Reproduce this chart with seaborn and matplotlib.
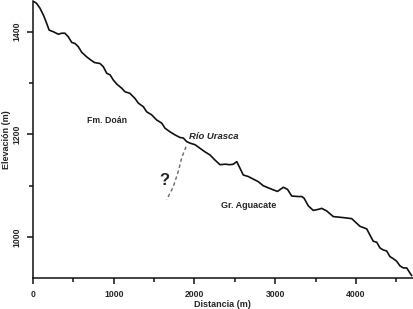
import matplotlib
matplotlib.use('Agg')
import matplotlib.pyplot as plt
import seaborn as sns
import pandas as pd
from matplotlib.ticker import MultipleLocator

# perfil topografico (distancia en m, elevacion en m)
distancia = [0, 45, 85, 130, 170, 200, 250, 315, 355, 395, 437, 480, 520, 560, 603,
             665, 706, 760, 830, 870, 913, 954, 994, 1037, 1098, 1139, 1200, 1263,
             1304, 1366, 1408, 1470, 1532, 1594, 1635, 1697, 1759, 1820, 1861, 1903,
             1944, 2006, 2068, 2130, 2192, 2254, 2316, 2378, 2440, 2481, 2523, 2564,
             2604, 2666, 2728, 2790, 2852, 2914, 2976, 3028, 3100, 3152, 3204, 3285,
             3328, 3356, 3409, 3471, 3533, 3575, 3637, 3719, 3843, 3947, 3988, 4050,
             4133, 4173, 4214, 4257, 4297, 4338, 4380, 4421, 4462, 4504, 4545, 4586,
             4628, 4669, 4690]
elevacion = [1460, 1455, 1446, 1432, 1416, 1403, 1400, 1395, 1397, 1397, 1390, 1379,
             1377, 1371, 1360, 1351, 1346, 1340, 1338, 1332, 1319, 1316, 1306, 1298,
             1290, 1283, 1280, 1270, 1261, 1254, 1244, 1238, 1228, 1222, 1212, 1205,
             1199, 1194, 1193, 1186, 1183, 1180, 1173, 1166, 1160, 1150, 1141, 1142,
             1141, 1142, 1147, 1134, 1121, 1118, 1113, 1108, 1100, 1096, 1092, 1089,
             1097, 1093, 1080, 1079, 1079, 1076, 1061, 1052, 1054, 1056, 1051, 1040,
             1038, 1036, 1030, 1021, 1016, 1004, 992, 990, 979, 975, 973, 962, 958,
             953, 944, 940, 940, 930, 925]

# contacto inferido (linea discontinua)
contacto_x = [1895, 1841, 1799, 1737, 1656]
contacto_y = [1176, 1154, 1128, 1098, 1073]

perfil = pd.DataFrame({'Distancia': distancia, 'Elevacion': elevacion})
contacto = pd.DataFrame({'x': contacto_x, 'y': contacto_y})

sns.set_style('ticks')
plt.rcParams['font.family'] = ['Liberation Sans', 'DejaVu Sans']
plt.rcParams['font.weight'] = 'bold'

fig = plt.figure(figsize=(4.14, 3.09), dpi=100)
ax = fig.add_axes([0.0797, 0.1013, 0.9167, 0.8959])

sns.lineplot(data=perfil, x='Distancia', y='Elevacion', sort=False, color='#111111',
             linewidth=1.2, ax=ax)
sns.lineplot(data=contacto, x='x', y='y', sort=False, color='#666666', linewidth=1.0,
             linestyle=(0, (2.5, 2)), ax=ax)

ax.set_xlim(0, 4700)
ax.set_ylim(921, 1460)
ax.xaxis.set_major_locator(MultipleLocator(1000))
ax.xaxis.set_minor_locator(MultipleLocator(500))
ax.yaxis.set_major_locator(MultipleLocator(200))
ax.yaxis.set_minor_locator(MultipleLocator(100))
ax.tick_params(which='major', length=4.5, width=1.1, labelsize=6.2, pad=4, color='#111111')
ax.tick_params(which='minor', length=3, width=1.1, color='#111111')
for lbl in ax.get_yticklabels():
    lbl.set_rotation(90)
    lbl.set_va('center')
for lbl in ax.get_xticklabels() + ax.get_yticklabels():
    lbl.set_fontweight('bold')

sns.despine(ax=ax)
for s in ['left', 'bottom']:
    ax.spines[s].set_linewidth(1.1)
    ax.spines[s].set_color('#111111')

ax.set_xlabel('Distancia (m)', fontsize=6.5, fontweight='bold', labelpad=1)
ax.set_ylabel('Elevación (m)', fontsize=6.5, fontweight='bold', labelpad=1)

ax.text(915, 1228, 'Fm. Doán', fontsize=6.3, fontweight='bold', ha='center', va='center')
ax.text(2235, 1195, 'Río Urasca', fontsize=6.8, fontweight='bold', style='italic',
        ha='center', va='center')
ax.text(2669, 1061, 'Gr. Aguacate', fontsize=6.5, fontweight='bold', ha='center', va='center')
ax.text(1622, 1110, '?', fontsize=12, ha='center', va='center', color='#222222')

fig.savefig('out.png', dpi=100)
